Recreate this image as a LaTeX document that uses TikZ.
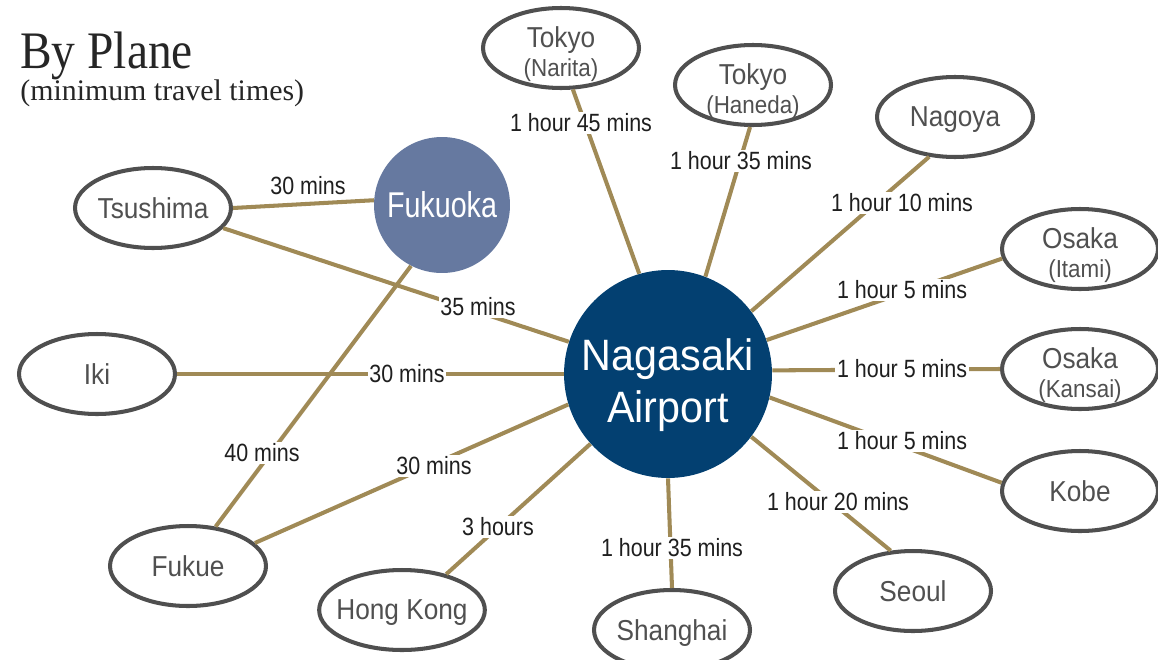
\documentclass[tikz,border=0pt]{standalone}
\usepackage{fontspec}
\setmainfont{Liberation Serif}
\newfontfamily\cittafont[FakeStretch=0.91]{Liberation Sans}
\newfontfamily\tempofont[FakeStretch=0.86]{Liberation Sans}
\newfontfamily\hubfont[FakeStretch=0.94]{Liberation Sans}
\newfontfamily\fukfont[FakeStretch=0.8]{Liberation Sans}
\newfontfamily\titolofont[FakeStretch=0.9]{Liberation Serif}
\usetikzlibrary{shapes.geometric}

\definecolor{blunotte}{HTML}{034071}
\definecolor{bluchiaro}{HTML}{6679A0}
\definecolor{oro}{HTML}{A08A56}
\definecolor{bordo}{HTML}{4F4F4F}
\definecolor{testocitta}{HTML}{505050}

\newcommand{\piccolo}[1]{{\fontsize{14}{16}\selectfont #1}}
\newcommand{\alto}{\rule{0pt}{18.8pt}}

\tikzset{
	cittabase/.style={ellipse, draw=bordo, line width=2.3pt, fill=white,
		minimum width=3.12cm, minimum height=1.6cm, inner xsep=-4pt, inner ysep=0pt,
		text=testocitta, align=center, font=\cittafont\fontsize{16.4}{16}\selectfont},
	citta/.style={cittabase, text depth=0pt},
	citta2/.style={cittabase, inner ysep=-4pt},
	hub/.style={circle, fill=blunotte, minimum size=4.16cm, inner sep=0pt},
	hubtesto/.style={text=white, align=center, inner sep=0pt, font=\hubfont\fontsize{25}{30}\selectfont},
	scalo/.style={circle, fill=bluchiaro, minimum size=2.72cm, inner sep=0pt,
		text=white, font=\fukfont\fontsize{20.4}{22}\selectfont},
	tempo/.style={fill=white, inner sep=1pt, text=black!88, font=\tempofont\fontsize{14.2}{16}\selectfont},
	rotta/.style={draw=oro, line width=2.3pt},
	titolo/.style={anchor=base west, inner sep=0pt, text=black!85, font=\titolofont\fontsize{30}{34}\selectfont},
	sottotitolo/.style={anchor=base west, inner sep=0pt, text=black!85, font=\fontsize{17}{20}\selectfont},
}

\begin{document}
\begin{tikzpicture}[x=0.02cm, y=-0.02cm]
					\useasboundingbox (0,0) rectangle (1158,659);
					
					% Titolo
					\node[titolo] (T) at (20,68) {By Plane};
					\node[sottotitolo] (S) at (20,100) {(minimum travel times)};
					
					% Aeroporti principali
					\node[hub] (N) at (668,374) {};
					\node[hubtesto] (Ntxt) at (668,385) {Nagasaki\\Airport};
					\node[scalo] (F) at (442,205) {Fukuoka};
					
					% Destinazioni
					\node[citta] (Tsu) at (153,208) {Tsushima};
					\node[citta] (Iki) at (97,374) {Iki};
					\node[citta] (Fuk) at (188,566) {Fukue};
					\node[citta] (HK) at (402,610) {Hong Kong};
					\node[citta] (Sha) at (672,630) {Shanghai};
					\node[citta] (Seo) at (913,591) {Seoul};
					\node[citta] (Kob) at (1080,491) {Kobe};
					\node[citta2] (OsK) at (1080,369) {\alto Osaka\\\piccolo{(Kansai)}};
					\node[citta2] (OsI) at (1080,249) {\alto Osaka\\\piccolo{(Itami)}};
					\node[citta] (Nag) at (955,117) {Nagoya};
					\node[citta2] (TkH) at (753,85) {\alto Tokyo\\\piccolo{(Haneda)}};
					\node[citta2] (TkN) at (561,48) {\alto Tokyo\\\piccolo{(Narita)}};
					
					% Rotte
					\draw[rotta] (Tsu.east) -- (F.176);
					\draw[rotta] (Tsu.344) -- (N.162);
					\draw[rotta] (F.243) -- (Fuk.55);
					\draw[rotta] (Iki) -- (N);
					\draw[rotta] (Fuk.19) -- (N.197);
					\draw[rotta] (HK.39) -- (N.222);
					\draw[rotta] (N.270) -- (Sha.90);
					\draw[rotta] (N.323) -- (Seo.119);
					\draw[rotta] (N.347) -- (Kob.174);
					\draw[rotta] (N.2) -- (OsK.west);
					\draw[rotta] (N.19) -- (OsI.187);
					\draw[rotta] (N.37) -- (Nag.237);
					\draw[rotta] (N.69) -- (TkH.266);
					\draw[rotta] (N.106) -- (TkN.286);
					
					% Tempi di volo
					\node[tempo] (t1) at (308,186) {30 mins};
					\node[tempo] (t2) at (478,307) {35 mins};
					\node[tempo] (t3) at (262,453) {40 mins};
					\node[tempo] (t4) at (407,374) {30 mins};
					\node[tempo] (t5) at (434,466) {30 mins};
					\node[tempo] (t6) at (498,527) {3 hours};
					\node[tempo] (t7) at (672,548) {1 hour 35 mins};
					\node[tempo] (t8) at (838,502) {1 hour 20 mins};
					\node[tempo] (t9) at (902,441) {1 hour 5 mins};
					\node[tempo] (t10) at (902,369) {1 hour 5 mins};
					\node[tempo] (t11) at (902,290) {1 hour 5 mins};
					\node[tempo] (t12) at (902,203) {1 hour 10 mins};
					\node[tempo] (t13) at (741,161) {1 hour 35 mins};
					\node[tempo] (t14) at (581,123) {1 hour 45 mins};
				\end{tikzpicture}
\end{document}
